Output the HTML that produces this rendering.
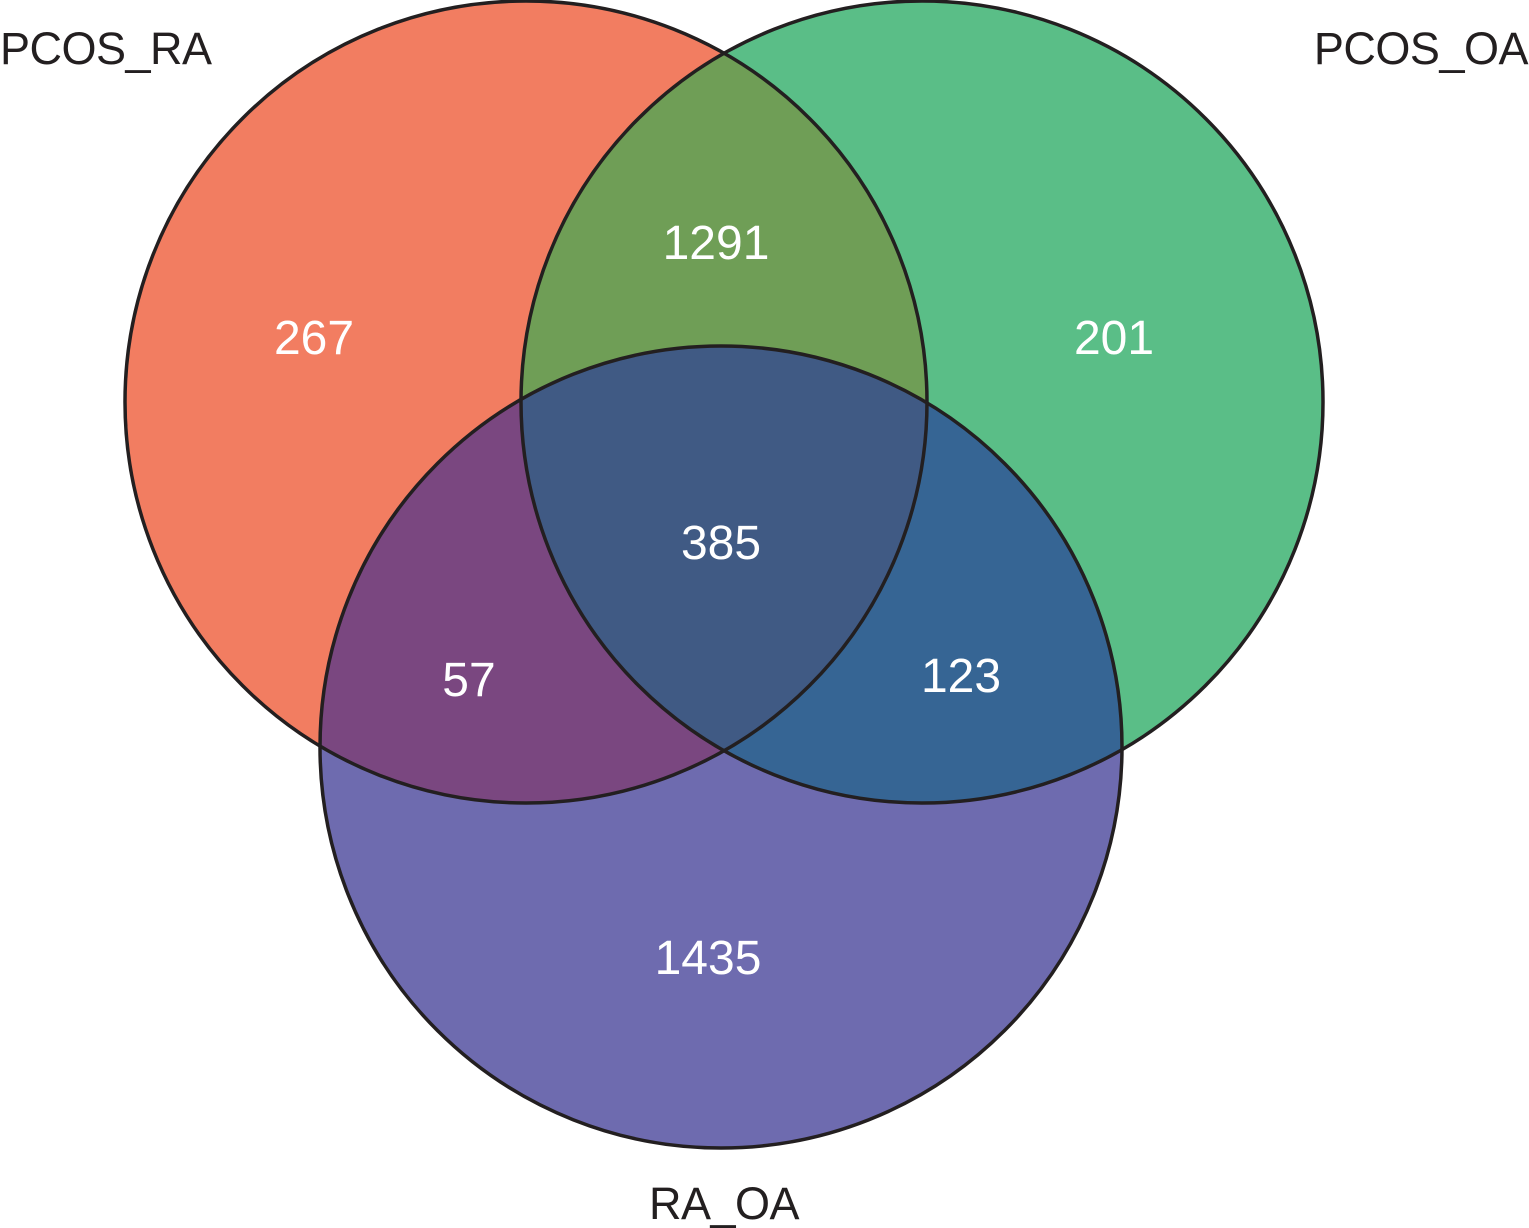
<!DOCTYPE html>
<html><head><meta charset="utf-8"><style>
html,body{margin:0;padding:0;background:#fff;}
svg{display:block;}
text{font-family:"Liberation Sans","DejaVu Sans",sans-serif;}
</style></head><body>
<svg width="1529" height="1228" viewBox="0 0 1529 1228" xmlns="http://www.w3.org/2000/svg">
<defs>
<clipPath id="cA"><circle cx="526" cy="402" r="401"/></clipPath>
<clipPath id="cB"><circle cx="922" cy="402" r="401"/></clipPath>
<clipPath id="cC"><circle cx="721" cy="747" r="401"/></clipPath>
</defs>
<circle cx="526" cy="402" r="401" fill="#F27D61"/>
<circle cx="922" cy="402" r="401" fill="#5ABE87"/>
<circle cx="721" cy="747" r="401" fill="#6E6BAF"/>
<g clip-path="url(#cA)"><circle cx="922" cy="402" r="401" fill="#6F9E56"/></g>
<g clip-path="url(#cA)"><circle cx="721" cy="747" r="401" fill="#7A4780"/></g>
<g clip-path="url(#cB)"><circle cx="721" cy="747" r="401" fill="#366594"/></g>
<g clip-path="url(#cA)"><g clip-path="url(#cB)"><circle cx="721" cy="747" r="401" fill="#405A84"/></g></g>
<g fill="none" stroke="#231F20" stroke-width="3.5">
<circle cx="526" cy="402" r="401"/>
<circle cx="922" cy="402" r="401"/>
<circle cx="721" cy="747" r="401"/>
</g>
<g fill="#fff" font-size="48" text-anchor="middle">
<text x="314" y="354">267</text>
<text x="716" y="259">1291</text>
<text x="1114" y="354">201</text>
<text x="721" y="559">385</text>
<text x="469" y="696">57</text>
<text x="961" y="692">123</text>
<text x="708" y="974">1435</text>
</g>
<g fill="#231F20" font-size="45" letter-spacing="-0.5">
<text x="0" y="64">PCOS_RA</text>
<text x="1528" y="64" text-anchor="end">PCOS_OA</text>
<text x="724" y="1219" text-anchor="middle">RA_OA</text>
</g>
</svg>
</body></html>
